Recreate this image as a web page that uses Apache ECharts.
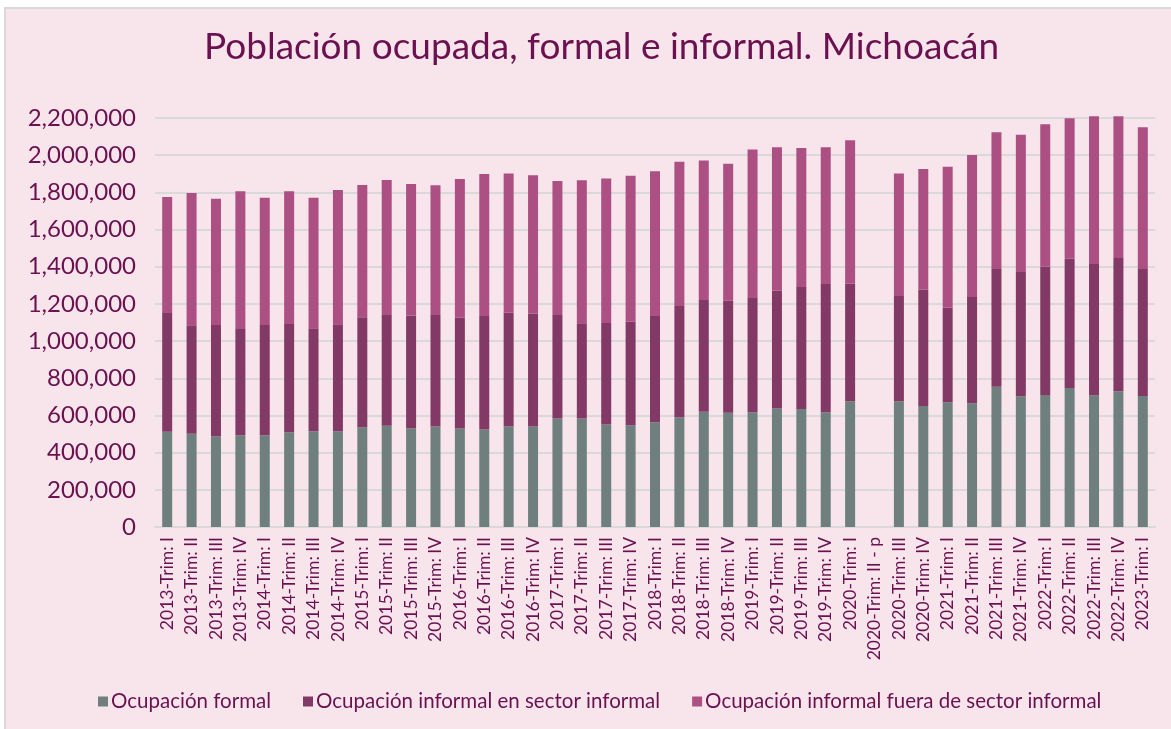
<!DOCTYPE html>
<html>
<head>
<meta charset="utf-8">
<script src="https://cdn.jsdelivr.net/npm/echarts@6/dist/echarts.min.js"></script>
<style>
html,body{margin:0;padding:0;background:#ffffff;}
#chart{width:1171px;height:729px;}
</style>
</head>
<body>
<div id="chart"></div>
<script>
const categories = [
  "2013-Trim: I","2013-Trim: II","2013-Trim: III","2013-Trim: IV",
  "2014-Trim: I","2014-Trim: II","2014-Trim: III","2014-Trim: IV",
  "2015-Trim: I","2015-Trim: II","2015-Trim: III","2015-Trim: IV",
  "2016-Trim: I","2016-Trim: II","2016-Trim: III","2016-Trim: IV",
  "2017-Trim: I","2017-Trim: II","2017-Trim: III","2017-Trim: IV",
  "2018-Trim: I","2018-Trim: II","2018-Trim: III","2018-Trim: IV",
  "2019-Trim: I","2019-Trim: II","2019-Trim: III","2019-Trim: IV",
  "2020-Trim: I","2020-Trim: II - p","2020-Trim: III","2020-Trim: IV",
  "2021-Trim: I","2021-Trim: II","2021-Trim: III","2021-Trim: IV",
  "2022-Trim: I","2022-Trim: II","2022-Trim: III","2022-Trim: IV",
  "2023-Trim: I"
];
// Ocupación formal
const formal = [
  513000,502000,488000,493000,
  493000,509000,515000,515000,
  536000,545000,531000,541000,
  530000,524000,541000,541000,
  583000,583000,552000,547000,
  563000,590000,620000,615000,
  617000,638000,635000,617000,
  676000,null,676000,651000,
  671000,665000,755000,703000,
  710000,748000,708000,730000,
  705000
];
// Ocupación informal en sector informal
const informalSector = [
  638000,583000,599000,572000,
  594000,583000,554000,575000,
  592000,595000,606000,599000,
  596000,611000,612000,607000,
  557000,513000,545000,557000,
  572000,599000,601000,602000,
  615000,633000,656000,690000,
  633000,null,567000,626000,
  509000,572000,633000,669000,
  690000,695000,707000,717000,
  683000
];
// Ocupación informal fuera de sector informal
const informalFuera = [
  624000,712000,679000,741000,
  684000,714000,702000,723000,
  712000,726000,708000,698000,
  746000,764000,749000,744000,
  721000,769000,777000,786000,
  778000,776000,750000,737000,
  799000,771000,748000,735000,
  771000,null,659000,649000,
  758000,764000,735000,738000,
  766000,755000,794000,762000,
  762000
];
const yTicks = [0,200000,400000,600000,800000,1000000,1200000,1400000,1600000,1800000,2000000,2200000];

const textColor = '#6b1150';
const font = 'Lato';

const chart = echarts.init(document.getElementById('chart'), null, {renderer:'canvas'});
const barW = '41%';
chart.setOption({
  backgroundColor: '#ffffff',
  animation: false,
  graphic: [{
    type: 'rect', z: -10, silent: true,
    shape: {x: 5, y: 8, width: 1180, height: 740},
    style: {fill: '#f8e5ec', stroke: '#d9d9d9', lineWidth: 2}
  }],
  title: {
    text: 'Población ocupada, formal e informal. Michoacán',
    left: 199, top: 24,
    textStyle: {color: textColor, fontFamily: font, fontSize: 37, fontWeight: 'normal'}
  },
  legend: {
    bottom: 12, left: 93,
    itemWidth: 10, itemHeight: 10, itemGap: 32,
    icon: 'rect',
    textStyle: {color: textColor, fontFamily: font, fontSize: 20.5, padding: [0,0,0,-2]},
    data: ['Ocupación formal','Ocupación informal en sector informal','Ocupación informal fuera de sector informal']
  },
  grid: {left: 155, right: 16, top: 118, bottom: 202, containLabel: false},
  xAxis: {
    type: 'category', data: categories,
    axisLine: {show: true, lineStyle: {color: '#d9d9d9', width: 2}},
    axisTick: {show: false},
    axisLabel: {rotate: 90, interval: 0, color: textColor, fontFamily: font, fontSize: 17.5, margin: 10}
  },
  yAxis: {
    type: 'value', min: 0, max: 2200000, interval: 200000,
    axisLine: {show: false}, axisTick: {show: false},
    splitLine: {lineStyle: {color: '#d9d9d9', width: 2}},
    axisLabel: {
      color: textColor, fontFamily: font, fontSize: 24, margin: 19,
      formatter: v => yTicks.includes(v) ? v.toLocaleString('en-US') : ''
    }
  },
  series: [
    {name: 'Ocupación formal', type: 'bar', stack: 't', barWidth: barW, data: formal, clip: false,
     itemStyle: {color: '#6e7f7d'}},
    {name: 'Ocupación informal en sector informal', type: 'bar', stack: 't', barWidth: barW, data: informalSector, clip: false,
     itemStyle: {color: '#833965'}},
    {name: 'Ocupación informal fuera de sector informal', type: 'bar', stack: 't', barWidth: barW, data: informalFuera, clip: false,
     itemStyle: {color: '#ac4f83'}}
  ]
});
</script>
</body>
</html>
